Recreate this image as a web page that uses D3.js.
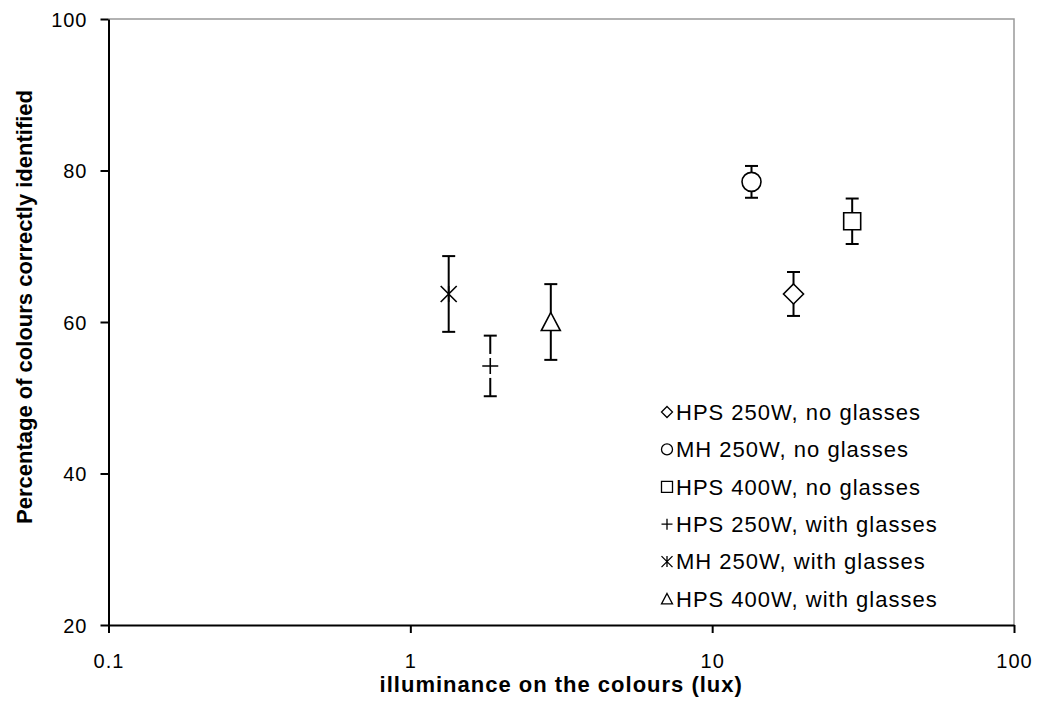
<!DOCTYPE html>
<html>
<head>
<meta charset="utf-8">
<script src="https://cdn.jsdelivr.net/npm/d3@7"></script>
<style>
  html, body { margin: 0; padding: 0; background: #fff; }
  svg { display: block; }
  text { font-family: "Liberation Sans", Arial, sans-serif; fill: #000; }
</style>
</head>
<body>
<svg id="chart" width="1039" height="710"></svg>
<script>
// ---- data ----
const categories = ["HPS 250W, no glasses", "MH 250W, no glasses", "HPS 400W, no glasses",
                    "HPS 250W, with glasses", "MH 250W, with glasses", "HPS 400W, with glasses"];
const illuminance = [18.6, 13.5, 29.1, 1.84, 1.34, 2.92];
const percentCorrect = [63.7, 78.5, 73.3, 54.2, 63.7, 60.0];
const errorBars = [2.9, 2.1, 3.0, 4.0, 5.0, 5.0];
const markerTypes = ["diamond", "circle", "square", "plus", "asterisk", "triangle"];
const xTicks = [0.1, 1, 10, 100];
const xTickLabels = ["0.1", "1", "10", "100"];
const yTicks = [20, 40, 60, 80, 100];
const yTickLabels = ["20", "40", "60", "80", "100"];
const xTitle = "illuminance on the colours (lux)";
const yTitle = "Percentage of colours correctly identified";

// ---- layout ----
const L = 108.5, R = 1014, T = 19, B = 625;
const svg = d3.select("#chart");
svg.append("rect").attr("width", 1039).attr("height", 710).attr("fill", "#fff");

const x = d3.scaleLog().domain([0.1, 100]).range([L, R]);
const y = d3.scaleLinear().domain([20, 100]).range([B, T]);

// plot border (top & right, grey)
svg.append("path")
  .attr("d", `M${L},${T}H${R}V${B}`)
  .attr("fill", "none").attr("stroke", "#999").attr("stroke-width", 1.5);

// axes
const xAxis = svg.append("g").attr("transform", `translate(0,${B})`)
  .call(d3.axisBottom(x).tickValues(xTicks).tickFormat((d, i) => xTickLabels[i]).tickSize(8).tickSizeOuter(0));
const yAxis = svg.append("g").attr("transform", `translate(${L},0)`)
  .call(d3.axisLeft(y).tickValues(yTicks).tickFormat((d, i) => yTickLabels[i]).tickSize(8).tickSizeOuter(0));

[xAxis, yAxis].forEach(g => {
  g.select(".domain").attr("stroke", "#000").attr("stroke-width", 2);
  g.selectAll(".tick line").attr("stroke", "#000").attr("stroke-width", 2);
  g.selectAll(".tick text")
    .style("font-family", '"Liberation Sans", Arial, sans-serif')
    .style("font-size", "20px").style("letter-spacing", "1px").attr("fill", "#000");
});
xAxis.selectAll(".tick text").attr("y", 36).attr("dy", "0.35em");
yAxis.selectAll(".tick text").attr("x", -21).attr("dy", "0.35em");

// axis titles
svg.append("text").attr("x", (L + R) / 2).attr("y", 692)
  .attr("text-anchor", "middle").style("font-size", "22px").style("font-weight", "bold")
  .style("letter-spacing", "1px").text(xTitle);
svg.append("text").attr("transform", "translate(32,307) rotate(-90)")
  .attr("text-anchor", "middle").style("font-size", "22px").style("font-weight", "bold")
  .text(yTitle);

// ---- marker shapes ----
function shapePath(type, s) {
  switch (type) {
    case "diamond": return `M0,${-s}L${s},0L0,${s}L${-s},0Z`;
    case "square": return `M${-s},${-s}H${s}V${s}H${-s}Z`;
    case "circle": return `M${s},0A${s},${s} 0 1,1 ${-s},0A${s},${s} 0 1,1 ${s},0Z`;
    case "triangle": return `M0,${-s}L${s},${s * 0.9}L${-s},${s * 0.9}Z`;
    case "plus": return `M${-s},0H${s}M0,${-s}V${s}`;
    case "asterisk": return `M${-s},${-s}L${s},${s}M${s},${-s}L${-s},${s}M0,${-s}V${s}`;
  }
}
const markerSize = { diamond: 10, square: 8.5, circle: 9.5, triangle: 9.5, plus: 8, asterisk: 8 };

const pts = categories.map((c, i) => ({
  name: c, x: illuminance[i], y: percentCorrect[i], e: errorBars[i], type: markerTypes[i]
}));

// error bars
const eb = svg.append("g").attr("stroke", "#000").attr("stroke-width", 2).attr("fill", "none");
pts.forEach(p => {
  const cx = x(p.x), y1 = y(p.y + p.e), y2 = y(p.y - p.e);
  eb.append("line").attr("x1", cx).attr("x2", cx).attr("y1", y1).attr("y2", y2);
  eb.append("line").attr("x1", cx - 6.5).attr("x2", cx + 6.5).attr("y1", y1).attr("y2", y1);
  eb.append("line").attr("x1", cx - 6.5).attr("x2", cx + 6.5).attr("y1", y2).attr("y2", y2);
});

// markers
const mk = svg.append("g");
pts.forEach(p => {
  const g = mk.append("g").attr("transform", `translate(${x(p.x)},${y(p.y)})`);
  const s = markerSize[p.type];
  if (p.type === "plus") {
    g.append("rect").attr("x", -s - 1).attr("y", -12).attr("width", 2 * s + 2).attr("height", 24).attr("fill", "#fff");
  }
  g.append("path").attr("d", shapePath(p.type, s))
    .attr("fill", (p.type === "plus" || p.type === "asterisk") ? "none" : "#fff")
    .attr("stroke", "#000").attr("stroke-width", p.type === "asterisk" || p.type === "plus" ? 1.6 : 1.6);
});

// ---- legend ----
const lg = svg.append("g");
categories.forEach((c, i) => {
  const cy = 412 + 37.4 * i;
  lg.append("path").attr("transform", `translate(667,${cy})`)
    .attr("d", shapePath(markerTypes[i], 5.5))
    .attr("fill", "none").attr("stroke", "#000").attr("stroke-width", 1.3);
  lg.append("text").attr("x", 676).attr("y", cy).attr("dy", "0.35em")
    .style("font-size", "22px").style("letter-spacing", "1px").text(c);
});
</script>
</body>
</html>
